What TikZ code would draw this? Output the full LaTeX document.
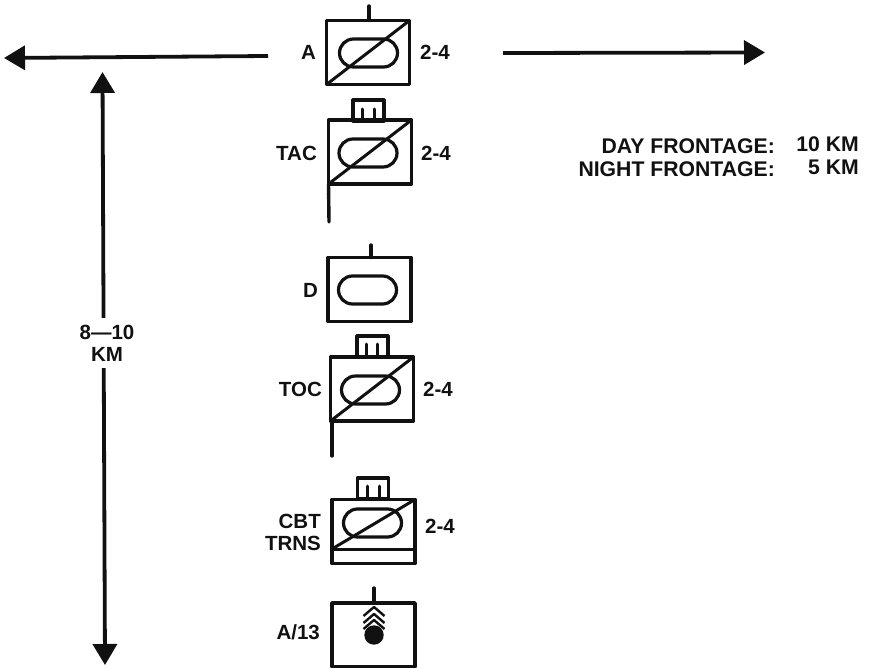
\documentclass[tikz,border=0pt]{standalone}
\usepackage{fontspec}
\setmainfont{Liberation Sans}
\usepackage{tikz}
\usetikzlibrary{arrows.meta,positioning,calc,shapes.misc}
\definecolor{inkblack}{HTML}{111111}

\begin{document}
\begin{tikzpicture}[
  x=1pt, y=-1pt,
  font=\fontsize{20.5}{22}\selectfont\bfseries,
  >={Triangle[length=21pt,width=24pt]},
  line cap=round,
  line join=round,
  color=inkblack,
  unitbox/.style={draw, line width=3.4pt, minimum width=83pt, minimum height=64pt, inner sep=0pt, outer sep=0pt},
  tankoval/.style={draw, line width=3.2pt, rounded rectangle, minimum width=58pt, minimum height=28pt, inner sep=0pt},
  hqbox/.style={draw, line width=3.2pt, minimum width=31pt, minimum height=21pt, inner sep=0pt, outer sep=0pt},
  diag/.style={line width=3pt},
  stem/.style={line width=3.4pt},
  tick/.style={line width=3pt},
  lab/.style={anchor=east, inner sep=0pt, align=right},
  size/.style={anchor=west, inner sep=0pt},
  front/.style={lab, font=\fontsize{21.2}{23}\selectfont\bfseries},
  flow/.style={->, line width=3.8pt, line cap=butt},
]
\useasboundingbox (0,0) rectangle (869,668);

% ---------- A company ----------
\node[unitbox] (a) at (368,52.5) {};
\node[tankoval] (aoval) at (368.5,53) {};
\draw[diag] (a.south west) -- (a.north east);
\coordinate (atop) at (369,6);
\draw[stem] (a.north -| atop) -- (atop);
\node[lab] (alab) at (316,52) {A};
\node[size] (asize) at (420,52) {2-4};

% ---------- TAC ----------
\node[unitbox] (tac) at (370,152) {};
\node[tankoval] (tacoval) at (368,153) {};
\draw[diag] (tac.south west) -- (tac.north east);
\node[hqbox, anchor=south] (tachq) at (368.5,121) {};
\foreach \x in {362,374} {
  \draw[tick] (\x,109) -- (\x,121);
}
\coordinate (tacflag) at (329,222);
\draw[stem] (tac.south west) -- (tacflag);
\node[lab] (taclab) at (317,153) {TAC};
\node[size] (tacsize) at (421,153) {2-4};

% ---------- D company ----------
\node[unitbox] (d) at (369.5,289.5) {};
\node[tankoval] (doval) at (367.5,290) {};
\coordinate (dtop) at (371,245);
\draw[stem] (d.north -| dtop) -- (dtop);
\node[lab] (dlab) at (318,290) {D};

% ---------- TOC ----------
\node[unitbox] (toc) at (372,389) {};
\node[tankoval] (tocoval) at (370.5,390) {};
\draw[diag] (toc.south west) -- (toc.north east);
\node[hqbox, anchor=south] (tochq) at (372.5,357) {};
\foreach \x in {366,377} {
  \draw[tick] (\x,344) -- (\x,357);
}
\coordinate (tocflag) at (332,456);
\draw[stem] (toc.south west -| tocflag) -- (tocflag);
\node[lab] (toclab) at (322,389) {TOC};
\node[size] (tocsize) at (423,389) {2-4};

% ---------- combat trains ----------
\node[unitbox] (cbt) at (373.5,531.5) {};
\node[tankoval] (cbtoval) at (372.5,523) {};
\coordinate (cbtbase) at (332,549);
\draw[diag] (cbtbase) -- (cbt.north east);
\draw[diag] (cbtbase) -- (cbtbase -| cbt.east);
\node[hqbox, anchor=south] (cbthq) at (373,499) {};
\foreach \x in {367,379} {
  \draw[tick] (\x,486) -- (\x,499);
}
\node[lab] (cbtlab) at (321,532) {CBT\\TRNS};
\node[size] (cbtsize) at (425,526) {2-4};

% ---------- A/13 ----------
\node[unitbox] (mort) at (373.5,635) {};
\fill (374,635) circle (9.7pt);
\coordinate (morttop) at (374,588);
\draw[stem] (mort.north -| morttop) -- (morttop);
\foreach \y in {607,614,620} {
  \draw[tick, line width=2.4pt, line cap=butt] (363.5,\y+9) -- (374,\y) -- (384.5,\y+9);
}
\node[lab] (mortlab) at (320,632) {A/13};

% ---------- extent arrows ----------
\coordinate (left0) at (268,56);
\coordinate (left1) at (4,58);
\draw[flow] (left0) -- (left1);
\coordinate (right0) at (503,53);
\coordinate (right1) at (765,52.5);
\draw[flow] (right0) -- (right1);
\coordinate (depth0) at (102.5,72);
\coordinate (depth1) at (105,665);
\draw[flow, <->] (depth0) -- (depth1);
\node[fill=white, inner sep=0pt, minimum width=58pt, minimum height=50pt, align=center] (depthlab) at (107,343) {8---10\\KM};

% ---------- frontage ----------
\node[front] (daylab) at (775,146) {DAY FRONTAGE:};
\node[front] (nightlab) at (775,169) {NIGHT FRONTAGE:};
\node[front] (dayval) at (859,144) {10 KM};
\node[front] (nightval) at (859,167) {5 KM};
\end{tikzpicture}
\end{document}
